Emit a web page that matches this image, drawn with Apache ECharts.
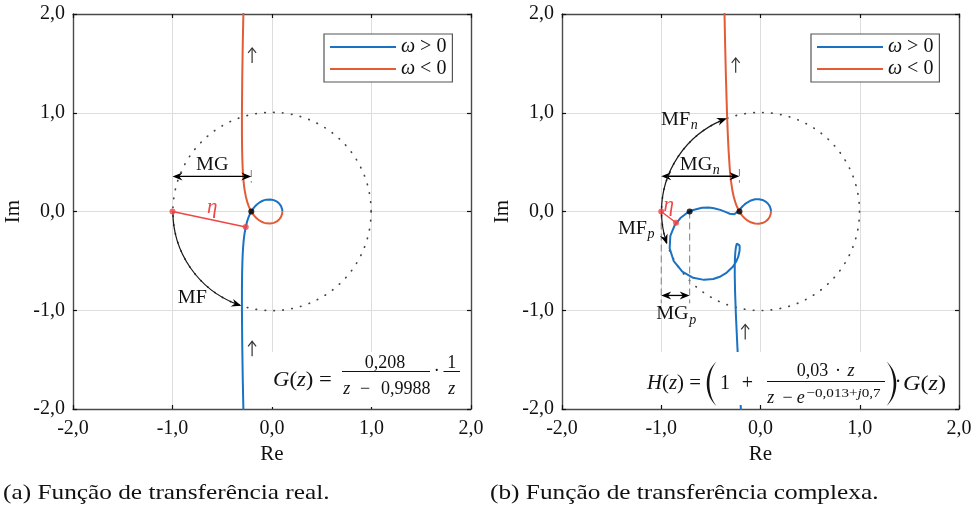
<!DOCTYPE html>
<html><head><meta charset="utf-8">
<script src="https://cdn.jsdelivr.net/npm/echarts@6/dist/echarts.min.js"></script>
<style>html,body{margin:0;padding:0;background:#fff}#c{width:980px;height:505px}</style>
</head><body><div id="c"></div>
<script>
// ---- tick labels ----
const tickValues = [-2, -1, 0, 1, 2];
const tickLabels = ['-2,0', '-1,0', '0,0', '1,0', '2,0'];
const seriesNames = ['ω > 0', 'ω < 0'];

// ---- (a) G(z): positive / negative frequency branches [Re, Im] ----
const posFreqA = [[-0.2808,-2.2962],[-0.2864,-2.0621],[-0.2936,-1.7104],[-0.2990,-1.3562],[-0.3021,-0.9976],[-0.3020,-0.7781],[-0.3004,-0.6282],[-0.2978,-0.5182],[-0.2945,-0.4332],[-0.2905,-0.3649],[-0.2860,-0.3084],[-0.2809,-0.2606],[-0.2754,-0.2194],[-0.2630,-0.1514],[-0.2489,-0.0972],[-0.2413,-0.0739],[-0.2334,-0.0527],[-0.2165,-0.0156],[-0.1985,0.0156],[-0.1795,0.0417],[-0.1598,0.0635],[-0.1395,0.0815],[-0.1189,0.0958],[-0.0981,0.1069],[-0.0773,0.1149],[-0.0568,0.1201],[-0.0368,0.1225],[-0.0175,0.1224],[0.0010,0.1200],[0.0184,0.1153],[0.0494,0.1001],[0.0743,0.0784],[0.0920,0.0518],[0.1020,0.0220],[0.1041,0]];
const negFreqA = [[0.1041,0],[0.1020,-0.0220],[0.0920,-0.0518],[0.0743,-0.0784],[0.0494,-0.1001],[0.0184,-0.1153],[0.0010,-0.1200],[-0.0175,-0.1224],[-0.0368,-0.1225],[-0.0568,-0.1201],[-0.0773,-0.1149],[-0.0981,-0.1069],[-0.1189,-0.0958],[-0.1395,-0.0815],[-0.1598,-0.0635],[-0.1795,-0.0417],[-0.1985,-0.0156],[-0.2165,0.0156],[-0.2334,0.0527],[-0.2413,0.0739],[-0.2489,0.0972],[-0.2630,0.1514],[-0.2754,0.2194],[-0.2809,0.2606],[-0.2860,0.3084],[-0.2905,0.3649],[-0.2945,0.4332],[-0.2978,0.5182],[-0.3004,0.6282],[-0.3020,0.7781],[-0.3021,0.9976],[-0.2990,1.3562],[-0.2936,1.7104],[-0.2864,2.0621],[-0.2808,2.2962]];

// ---- (b) H(z) ----
const posFreqB = [[-0.1759,-2.3465],[-0.1911,-2.1092],[-0.2124,-1.7528],[-0.2318,-1.3942],[-0.2485,-1.0319],[-0.2562,-0.8111],[-0.2592,-0.6614],[-0.2593,-0.5529],[-0.2573,-0.4707],[-0.2532,-0.4073],[-0.2472,-0.3587],[-0.2384,-0.3247],[-0.2254,-0.3123],[-0.2186,-0.3197],[-0.2117,-0.3424],[-0.2096,-0.3647],[-0.2113,-0.4006],[-0.2249,-0.4598],[-0.2432,-0.5033],[-0.2788,-0.5589],[-0.3476,-0.6249],[-0.4024,-0.6576],[-0.4757,-0.6833],[-0.5692,-0.6923],[-0.6782,-0.6713],[-0.7878,-0.6084],[-0.8739,-0.5032],[-0.9153,-0.3734],[-0.9084,-0.2461],[-0.8663,-0.1418],[-0.8071,-0.0666],[-0.7445,-0.0173],[-0.6859,0.0125],[-0.5897,0.0373],[-0.5201,0.0395],[-0.4699,0.0335],[-0.4051,0.0164],[-0.3663,0.0016],[-0.3409,-0.0095],[-0.3097,-0.0229],[-0.2909,-0.0290],[-0.2637,-0.0285],[-0.2470,-0.0193],[-0.2222,0.0056],[-0.2008,0.0305],[-0.1800,0.0530],[-0.1593,0.0723],[-0.1384,0.0885],[-0.0963,0.1116],[-0.0548,0.1233],[-0.0154,0.1246],[0.0205,0.1168],[0.0515,0.1010],[0.0762,0.0788],[0.0939,0.0518],[0.1037,0.0217],[0.1056,-0.0006]];
const negFreqB = [[0.1056,-0.0006],[0.1034,-0.0228],[0.0933,-0.0528],[0.0753,-0.0797],[0.0502,-0.1016],[0.0189,-0.1170],[-0.0174,-0.1243],[-0.0571,-0.1222],[-0.0988,-0.1092],[-0.1409,-0.0839],[-0.1616,-0.0660],[-0.1818,-0.0443],[-0.2013,-0.0182],[-0.2200,0.0130],[-0.2377,0.0501],[-0.2543,0.0947],[-0.2697,0.1491],[-0.2839,0.2173],[-0.2971,0.3069],[-0.3096,0.4326],[-0.3223,0.6297],[-0.3294,0.7813],[-0.3377,1.0037],[-0.3486,1.3674],[-0.3572,1.7270],[-0.3640,2.0842],[-0.3678,2.3221]];

// ---- annotations (data units) ----
const unitCircle = [[0, 0, 1]];
const mgArrowsA = [[-1, -0.208, 0.355]];
const mgArrowsB = [[-1, -0.212, 0.357], [-1, -0.714, -0.85]];
const guidesA = [[-0.208, 0.42, 0.29]];
const guidesB = [[-0.212, 0.43, 0.29], [-1, 0, -0.93], [-0.714, 0, -0.93]];
const etaLineA = [[-1, 0], [-0.264, -0.156]];
const etaLineB = [[-1, 0], [-0.851, -0.114]];
const mfArcsA = [[180, 252]];          // degrees on unit circle: start, end
const mfArcsB = [[180, 109.8], [180, 199.3]];
const crossDotsA = [[-0.208, 0]];
const crossDotsB = [[-0.714, 0], [-0.212, 0]];
const labelTextA = ['MG', 'MF'];
const labelSubA = ['', ''];
const labelPosA = [[-0.60, 0.47], [-0.80, -0.88]];
const labelTextB = ['MG', 'MF', 'MF', 'MG'];
const labelSubB = ['n', 'n', 'p', 'p'];
const labelPosB = [[-0.486, 0.473], [-0.708, 0.929], [-1.143, -0.175], [-0.724, -1.037]];
const etaPosA = [[-0.60, 0.04]];
const etaPosB = [[-0.926, 0.06]];
const upArrowsA = [[-0.20, 1.58], [-0.20, -1.39]];
const upArrowsB = [[-0.25, 1.48], [-0.154, -1.22]];

const FONT = '"Liberation Serif","DejaVu Serif",serif';
const BLUE = '#1a72c2', ORANGE = '#e25c36', RED = '#f04545';

function tickFmt(v) { const i = tickValues.indexOf(Math.round(v * 1000) / 1000); return i >= 0 ? tickLabels[i] : ''; }

function head(tip, dir, L, W) {
  const px = -dir[1], py = dir[0];
  const bx = tip[0] - dir[0] * L, by = tip[1] - dir[1] * L;
  const nx = tip[0] - dir[0] * L * 0.68, ny = tip[1] - dir[1] * L * 0.68;
  return { type: 'polygon', shape: { points: [tip, [bx + px * W / 2, by + py * W / 2], [nx, ny], [bx - px * W / 2, by - py * W / 2]] }, style: { fill: '#000' } };
}

function xAx(g, pos, main) {
  return { type: 'value', gridIndex: g, position: pos, min: -2, max: 2, interval: 1,
    axisLine: { show: true, onZero: false, lineStyle: { color: '#4a4a4a', width: 1.4 } },
    axisTick: { show: true, inside: true, length: 4, lineStyle: { color: '#111', width: 1.2 } },
    axisLabel: { show: main, formatter: tickFmt, fontFamily: FONT, fontSize: 20, color: '#111', margin: 10 },
    splitLine: { show: main, lineStyle: { color: '#dddddd', width: 1 } },
    name: main ? 'Re' : '', nameLocation: 'middle', nameGap: 34,
    nameTextStyle: { fontFamily: FONT, fontSize: 21, color: '#111' } };
}
function yAx(g, pos, main) {
  return { type: 'value', gridIndex: g, position: pos, min: -2, max: 2, interval: 1,
    axisLine: { show: true, onZero: false, lineStyle: { color: '#4a4a4a', width: 1.4 } },
    axisTick: { show: true, inside: true, length: 4, lineStyle: { color: '#111', width: 1.2 } },
    axisLabel: { show: main, formatter: tickFmt, fontFamily: FONT, fontSize: 20, color: '#111', margin: 8 },
    splitLine: { show: main, lineStyle: { color: '#dddddd', width: 1 } },
    name: main ? 'Im' : '', nameLocation: 'middle', nameGap: 49, nameRotate: 90,
    nameTextStyle: { fontFamily: FONT, fontSize: 21, color: '#111' } };
}

function circleSeries(xi, yi) {
  return { type: 'custom', xAxisIndex: xi, yAxisIndex: yi, z: 1, data: unitCircle, silent: true,
    renderItem: (p, api) => {
      const c = api.coord([api.value(0), api.value(1)]);
      const s = api.size([api.value(2), api.value(2)]);
      return { type: 'circle', shape: { cx: c[0], cy: c[1], r: (s[0] + s[1]) / 2 },
        style: { fill: null, stroke: '#444', lineWidth: 1.7, lineDash: [0.5, 8.5], lineCap: 'round' } };
    } };
}
function mgSeries(xi, yi, data) {
  return { type: 'custom', xAxisIndex: xi, yAxisIndex: yi, z: 5, data: data, silent: true,
    renderItem: (p, api) => {
      const a = api.coord([api.value(0), api.value(2)]);
      const b = api.coord([api.value(1), api.value(2)]);
      const d = b[0] > a[0] ? 1 : -1;
      return { type: 'group', children: [
        { type: 'line', shape: { x1: a[0] + d * 3, y1: a[1], x2: b[0] - d * 3, y2: b[1] }, style: { stroke: '#000', lineWidth: 1.3 } },
        head(a, [-d, 0], 10, 8), head(b, [d, 0], 10, 8)] };
    } };
}
function guideSeries(xi, yi, data) {
  return { type: 'custom', xAxisIndex: xi, yAxisIndex: yi, z: 1, data: data, silent: true,
    renderItem: (p, api) => {
      const a = api.coord([api.value(0), api.value(1)]);
      const b = api.coord([api.value(0), api.value(2)]);
      return { type: 'line', shape: { x1: a[0], y1: a[1], x2: b[0], y2: b[1] }, style: { stroke: '#8a8a8a', lineWidth: 1.1, lineDash: [7, 4] } };
    } };
}
function arcSeries(xi, yi, data) {
  return { type: 'custom', xAxisIndex: xi, yAxisIndex: yi, z: 5, data: data, silent: true,
    renderItem: (p, api) => {
      const c = api.coord([0, 0]);
      const s = api.size([1, 1]);
      const r = (s[0] + s[1]) / 2;
      const a0 = api.value(0) * Math.PI / 180, a1 = api.value(1) * Math.PI / 180;
      const sg = a1 > a0 ? 1 : -1;
      const tip = [c[0] + r * Math.cos(a1), c[1] - r * Math.sin(a1)];
      const dir = [sg * -Math.sin(a1), sg * -Math.cos(a1)];
      const aEnd = a1 - sg * 0.05;
      return { type: 'group', children: [
        { type: 'arc', shape: { cx: c[0], cy: c[1], r: r, startAngle: -a0, endAngle: -aEnd, clockwise: a1 < a0 },
          style: { stroke: '#1a1a1a', lineWidth: 1.2, fill: null } },
        head(tip, dir, 10, 8)] };
    } };
}
function labelSeries(xi, yi, pos, texts, subs) {
  return { type: 'custom', xAxisIndex: xi, yAxisIndex: yi, z: 6, data: pos, silent: true,
    renderItem: (p, api) => {
      const c = api.coord([api.value(0), api.value(1)]);
      const t = texts[p.dataIndex], s = subs[p.dataIndex];
      const kids = [{ type: 'text', x: c[0], y: c[1], scaleX: 1.06, style: { text: t, fill: '#111', fontFamily: FONT, fontSize: 19, align: s ? 'right' : 'center', verticalAlign: 'middle' } }];
      if (s) kids.push({ type: 'text', x: c[0] + 0.5, y: c[1] + 6, style: { text: s, fill: '#111', fontFamily: FONT, fontSize: 14, fontStyle: 'italic', align: 'left', verticalAlign: 'middle' } });
      return { type: 'group', children: kids };
    } };
}
function symbolTextSeries(xi, yi, pos, glyph, color, size, italic) {
  return { type: 'custom', xAxisIndex: xi, yAxisIndex: yi, z: 6, data: pos, silent: true,
    renderItem: (p, api) => {
      const c = api.coord([api.value(0), api.value(1)]);
      return { type: 'text', x: c[0], y: c[1], style: { text: glyph, fill: color, fontFamily: FONT, fontSize: size, fontStyle: italic ? 'italic' : 'normal', align: 'center', verticalAlign: 'middle' } };
    } };
}
function upArrowSeries(xi, yi, pos) {
  return { type: 'custom', xAxisIndex: xi, yAxisIndex: yi, z: 6, data: pos, silent: true,
    renderItem: (p, api) => {
      const c = api.coord([api.value(0), api.value(1)]);
      const st = { stroke: '#333', lineWidth: 1.2, fill: null };
      return { type: 'group', children: [
        { type: 'line', shape: { x1: c[0], y1: c[1] + 7.5, x2: c[0], y2: c[1] - 7 }, style: st },
        { type: 'polyline', shape: { points: [[c[0] - 4, c[1] - 2.5], [c[0], c[1] - 7.5], [c[0] + 4, c[1] - 2.5]] }, style: st }] };
    } };
}
function lineSeries(name, xi, yi, data, color, w, z) {
  return { type: 'line', name: name, xAxisIndex: xi, yAxisIndex: yi, data: data, symbol: 'none', z: z || 3,
    lineStyle: { color: color, width: w }, itemStyle: { color: color }, clip: true, silent: true };
}
function dotSeries(xi, yi, data, color) {
  return { type: 'scatter', xAxisIndex: xi, yAxisIndex: yi, data: data, symbolSize: 6, z: 7, itemStyle: { color: color }, silent: true };
}

const legendBase = (left) => ({
  left: left, top: 34, orient: 'vertical', data: seriesNames, selectedMode: false,
  icon: 'rect', itemWidth: 66, itemHeight: 2, itemGap: 2, padding: [3, 6, 3, 6],
  backgroundColor: '#fff', borderColor: '#555', borderWidth: 1.2, borderRadius: 0,
  formatter: (n) => '{i|ω}{r|' + n.slice(1) + '}',
  textStyle: { fontFamily: FONT, fontSize: 20, lineHeight: 20, color: '#111',
    rich: { i: { fontFamily: FONT, fontSize: 20, fontStyle: 'italic', color: '#111', lineHeight: 20 },
            r: { fontFamily: FONT, fontSize: 20, color: '#111', lineHeight: 20 } } }
});

function gtext(x, y, text, size, align, sx) {
  return { type: 'text', x: x, y: y, z: 101, scaleX: sx || 1,
    style: { text: text, fill: '#111', fontFamily: FONT, fontSize: size, align: align || 'center', verticalAlign: 'middle',
      rich: { i: { fontFamily: FONT, fontSize: size, fontStyle: 'italic', fill: '#111' } } } };
}
function gline(x1, y1, x2, y2) {
  return { type: 'line', z: 101, shape: { x1: x1, y1: y1, x2: x2, y2: y2 }, style: { stroke: '#111', lineWidth: 1 } };
}
// tall bracket drawn as a filled crescent (outer & inner cubic curves)
function bracket(xEnd, yTop, yBot, bulgeOuter, bulgeInner) {
  const pts = [];
  const bz = (a, b, c, d, t) => { const u = 1 - t; return u*u*u*a + 3*u*u*t*b + 3*u*t*t*c + t*t*t*d; };
  const h = yBot - yTop;
  for (let k = 0; k <= 20; k++) { const t = k / 20; pts.push([bz(xEnd, xEnd + bulgeOuter, xEnd + bulgeOuter, xEnd, t), bz(yTop, yTop + h * 0.25, yTop + h * 0.75, yBot, t)]); }
  for (let k = 20; k >= 0; k--) { const t = k / 20; pts.push([bz(xEnd, xEnd + bulgeInner, xEnd + bulgeInner, xEnd, t), bz(yTop, yTop + h * 0.25, yTop + h * 0.75, yBot, t)]); }
  return { type: 'polygon', z: 101, shape: { points: pts }, style: { fill: '#111' } };
}

const graphics = [
  { type: 'rect', z: 100, shape: { x: 256, y: 352, width: 213, height: 55 }, style: { fill: '#fff' } },
  gtext(273, 380, '{i|G}({i|z}) =', 21, 'left', 1.08),
  gtext(385, 363, '0,208', 18),
  gline(342, 371.5, 430, 371.5),
  gtext(346.7, 389, '{i|z}', 18),
  gtext(365, 389, '−', 18),
  gtext(405.8, 389, '0,9988', 18),
  gtext(436.7, 371.5, '·', 18),
  gtext(451.7, 363, '1', 18),
  gline(443.5, 371.5, 460, 371.5),
  gtext(451.7, 389, '{i|z}', 18),

  { type: 'rect', z: 100, shape: { x: 645, y: 352, width: 313, height: 53 }, style: { fill: '#fff' } },
  gtext(647, 384, '{i|H}({i|z}) =', 20, 'left', 1.04),
  bracket(716.5, 361.5, 406, -13, -9.5),
  gtext(725, 384, '1', 20),
  gtext(747.5, 384, '+', 20),
  gline(767, 381.5, 885, 381.5),
  gtext(812.5, 371, '0,03', 18),
  gtext(838, 371, '·', 18),
  gtext(851, 371, '{i|z}', 18),
  gtext(770.8, 398.5, '{i|z}', 18),
  gtext(787.5, 398.5, '−', 18),
  gtext(800.8, 398.5, '{i|e}', 18),
  gtext(806.5, 393, '−0,013+{i|j}0,7', 13.5, 'left', 1.12),
  bracket(886.5, 361.5, 406, 13, 9.5),
  gtext(898, 383, '·', 20),
  gtext(903, 384, '{i|G}({i|z})', 21, 'left', 1.15),

  gtext(3, 493, '(a) Função de transferência real.', 22, 'left', 1.15),
  gtext(490, 493, '(b) Função de transferência complexa.', 22, 'left', 1.15)
];

const option = {
  animation: false,
  backgroundColor: '#fff',
  grid: [{ left: 73, top: 14, width: 398, height: 395 }, { left: 562, top: 14, width: 397, height: 395 }],
  xAxis: [xAx(0, 'bottom', true), xAx(1, 'bottom', true), xAx(0, 'top', false), xAx(1, 'top', false)],
  yAxis: [yAx(0, 'left', true), yAx(1, 'left', true), yAx(0, 'right', false), yAx(1, 'right', false)],
  legend: [legendBase(324), legendBase(811)],
  graphic: graphics,
  series: [
    circleSeries(0, 0), circleSeries(1, 1),
    guideSeries(0, 0, guidesA), guideSeries(1, 1, guidesB),
    lineSeries(seriesNames[0], 0, 0, posFreqA, BLUE, 2),
    lineSeries(seriesNames[1], 0, 0, negFreqA, ORANGE, 2),
    lineSeries(seriesNames[0], 1, 1, posFreqB, BLUE, 2),
    lineSeries(seriesNames[1], 1, 1, negFreqB, ORANGE, 2),
    lineSeries('etaA', 0, 0, etaLineA, RED, 1.5, 4),
    lineSeries('etaB', 1, 1, etaLineB, RED, 1.5, 4),
    mgSeries(0, 0, mgArrowsA), mgSeries(1, 1, mgArrowsB),
    arcSeries(0, 0, mfArcsA), arcSeries(1, 1, mfArcsB),
    dotSeries(0, 0, crossDotsA, '#000'), dotSeries(1, 1, crossDotsB, '#000'),
    dotSeries(0, 0, [etaLineA[0], etaLineA[1]], RED), dotSeries(1, 1, [etaLineB[0], etaLineB[1]], RED),
    labelSeries(0, 0, labelPosA, labelTextA, labelSubA),
    labelSeries(1, 1, labelPosB, labelTextB, labelSubB),
    symbolTextSeries(0, 0, etaPosA, 'η', RED, 21, true),
    symbolTextSeries(1, 1, etaPosB, 'η', RED, 21, true),
    upArrowSeries(0, 0, upArrowsA),
    upArrowSeries(1, 1, upArrowsB)
  ]
};
const chart = echarts.init(document.getElementById('c'), null, { renderer: 'canvas' });
chart.setOption(option);
</script></body></html>
